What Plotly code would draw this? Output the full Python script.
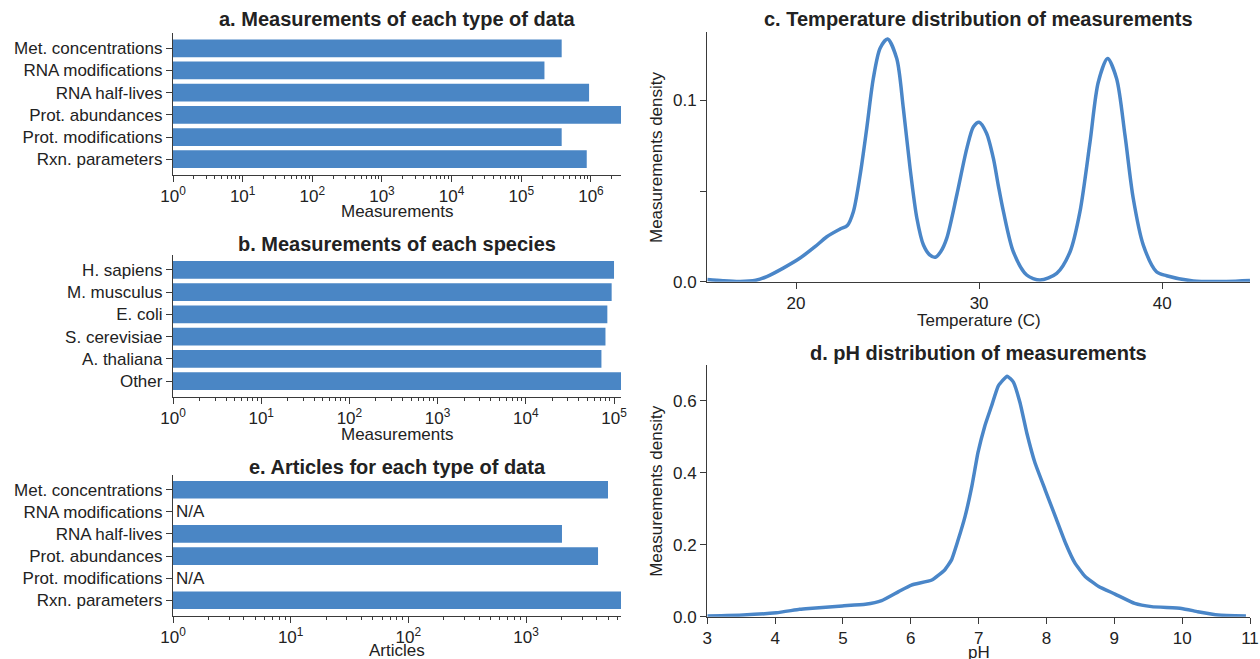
import numpy as np
import plotly.graph_objects as go

W, H = 1260, 659

# ---------------- data ----------------
data_types = ["Met. concentrations", "RNA modifications", "RNA half-lives",
              "Prot. abundances", "Prot. modifications", "Rxn. parameters"]
type_measurements = [3.8e5, 2.15e5, 9.4e5, 2.7e6, 3.8e5, 8.7e5]

species = ["H. sapiens", "M. musculus", "E. coli", "S. cerevisiae", "A. thaliana", "Other"]
species_measurements = [1.0e5, 9.4e4, 8.4e4, 8.0e4, 7.2e4, 1.2e5]

type_articles = [4970, None, 2020, 4090, None, 6410]

temp_x = [15.15, 16.0, 16.94, 17.8, 18.4, 19.3, 20.2, 21.0, 21.68, 22.4, 22.8, 23.13,
          23.5, 23.86, 24.22, 24.59, 25.0, 25.5, 25.86, 26.23, 26.6, 26.96, 27.3, 27.61,
          27.9, 28.23, 28.78, 29.33, 29.69, 30.0, 30.4, 30.78, 31.05, 31.33, 31.87, 32.6,
          33.33, 34.24, 34.97, 35.51, 36.06, 36.51, 37.02, 37.51, 37.97, 38.42, 38.97,
          39.69, 40.24, 41.7, 43.5, 44.8]
temp_density = [0.0012, 0.0005, 0.0001, 0.0008, 0.0028, 0.0075, 0.0129, 0.019, 0.0248,
                0.029, 0.031, 0.0386, 0.0588, 0.0845, 0.112, 0.1287, 0.1338, 0.123,
                0.0956, 0.0625, 0.035, 0.0202, 0.0148, 0.0135, 0.0165, 0.0239, 0.0478,
                0.0735, 0.0854, 0.0879, 0.082, 0.068, 0.053, 0.0386, 0.0165, 0.0037,
                0.0009, 0.0046, 0.0165, 0.0386, 0.077, 0.110, 0.123, 0.112, 0.0807,
                0.046, 0.0202, 0.0055, 0.0033, 0.0004, 0.0001, 0.0006]

ph_x = [3.0, 3.53, 4.02, 4.36, 4.5, 4.99, 5.33, 5.57, 5.82, 6.01, 6.31, 6.5, 6.6, 6.69,
        6.8, 6.9, 6.99, 7.09, 7.19, 7.29, 7.42, 7.51, 7.61, 7.71, 7.83, 7.98, 8.13, 8.28,
        8.42, 8.57, 8.77, 9.01, 9.3, 9.55, 9.99, 10.23, 10.53, 10.94]
ph_density = [0.002, 0.0047, 0.011, 0.0205, 0.023, 0.030, 0.0345, 0.0446, 0.0698, 0.088,
              0.102, 0.130, 0.158, 0.209, 0.279, 0.363, 0.456, 0.530, 0.586, 0.642, 0.669,
              0.653, 0.595, 0.511, 0.428, 0.353, 0.279, 0.205, 0.149, 0.112, 0.084, 0.063,
              0.037, 0.028, 0.023, 0.014, 0.0047, 0.002]

temp_ticks = [20, 30, 40]
temp_yticks = [0, 0.05, 0.1]
temp_yticktext = ["0.0", "", "0.1"]
ph_ticks = [3, 4, 5, 6, 7, 8, 9, 10, 11]
ph_yticks = [0, 0.2, 0.4, 0.6]
ph_yticktext = ["0.0", "0.2", "0.4", "0.6"]

# ---------------- style ----------------
BAR = "#4a86c5"
LINE = "#4a86c8"
AX = "#3a3a3a"
TXT = "#222222"
FONT = "Liberation Sans, Arial, sans-serif"
TICKFONT = dict(family=FONT, size=17, color=TXT)


def fx(px):
    return px / W


def fy(py):
    return 1 - py / H


LEFT_X = [fx(173), fx(621)]
RIGHT_X = [fx(707.3), fx(1250)]


def log_xaxis(vals, y_anchor):
    vmax = max(v for v in vals if v is not None)
    top = np.log10(vmax)
    n = int(np.floor(top))
    major = [10 ** k for k in range(n + 1)]
    minor = [m * 10 ** k for k in range(n + 1) for m in range(2, 10) if m * 10 ** k <= vmax]
    return dict(type="log", domain=LEFT_X, range=[0, top], anchor=y_anchor, automargin=False,
                tickvals=major, ticktext=[f"10<sup>{k}</sup>" for k in range(n + 1)],
                ticks="outside", ticklen=6, tickwidth=1.2, tickcolor=AX,
                showline=True, linecolor=AX, linewidth=1.3, showgrid=False, zeroline=False,
                minor=dict(ticks="outside", ticklen=3.5, tickwidth=1, tickcolor=AX,
                           tickvals=minor, showgrid=False),
                tickfont=TICKFONT)


def cat_yaxis(cats, y0, y1, x_anchor):
    return dict(type="category", domain=[fy(y1), fy(y0)], anchor=x_anchor, automargin=False,
                categoryorder="array", categoryarray=cats,
                range=[len(cats) - 0.31, -0.69],
                ticks="outside", ticklen=6, tickwidth=1.2, tickcolor=AX,
                showline=True, linecolor=AX, linewidth=1.3, showgrid=False, zeroline=False,
                tickfont=TICKFONT)


fig = go.Figure()

fig.add_trace(go.Bar(x=type_measurements, y=data_types, orientation="h",
                     marker=dict(color=BAR, line=dict(width=0)), xaxis="x", yaxis="y"))
fig.add_trace(go.Bar(x=species_measurements, y=species, orientation="h",
                     marker=dict(color=BAR, line=dict(width=0)), xaxis="x2", yaxis="y2"))
fig.add_trace(go.Bar(x=type_articles, y=data_types, orientation="h",
                     marker=dict(color=BAR, line=dict(width=0)), xaxis="x3", yaxis="y3"))
fig.add_trace(go.Scatter(x=temp_x, y=temp_density, mode="lines",
                         line=dict(color=LINE, width=3.5, shape="spline", smoothing=0.8),
                         xaxis="x4", yaxis="y4"))
fig.add_trace(go.Scatter(x=ph_x, y=ph_density, mode="lines",
                         line=dict(color=LINE, width=3.5, shape="spline", smoothing=0.4),
                         xaxis="x5", yaxis="y5"))

lin_common = dict(ticks="outside", ticklen=6, tickwidth=1.2, tickcolor=AX, automargin=False,
                  showline=True, linecolor=AX, linewidth=1.3, showgrid=False,
                  zeroline=False, tickfont=TICKFONT)

fig.update_layout(
    width=W, height=H, margin=dict(l=0, r=0, t=0, b=0, autoexpand=False),
    paper_bgcolor="white", plot_bgcolor="white", showlegend=False,
    bargap=0.2, font=dict(family=FONT, color=TXT), hovermode=False,
    xaxis=log_xaxis(type_measurements, "y"),
    yaxis=cat_yaxis(data_types, 33, 174.5, "x"),
    xaxis2=log_xaxis(species_measurements, "y2"),
    yaxis2=cat_yaxis(species, 254.5, 396.5, "x2"),
    xaxis3=log_xaxis(type_articles, "y3"),
    yaxis3=cat_yaxis(data_types, 474.5, 615.5, "x3"),
    xaxis4=dict(domain=RIGHT_X, anchor="y4", range=[min(temp_x), max(temp_x)],
                tickvals=temp_ticks, **lin_common),
    yaxis4=dict(domain=[fy(281.7), fy(32.3)], anchor="x4", range=[0, 0.1375],
                tickvals=temp_yticks, ticktext=temp_yticktext, **lin_common),
    xaxis5=dict(domain=RIGHT_X, anchor="y5", range=[ph_ticks[0], ph_ticks[-1]],
                tickvals=ph_ticks, **lin_common),
    yaxis5=dict(domain=[fy(616.7), fy(365)], anchor="x5", range=[0, 0.70],
                tickvals=ph_yticks, ticktext=ph_yticktext, **lin_common),
)

ann = []
TITLE_FONT = dict(family=FONT, size=20, color=TXT)
LABEL_FONT = dict(family=FONT, size=17, color=TXT)
lx = fx((173 + 621) / 2)
rx = fx((707.3 + 1250) / 2)
for text, x, y in [("<b>a. Measurements of each type of data</b>", lx, 19),
                   ("<b>b. Measurements of each species</b>", lx, 244),
                   ("<b>e. Articles for each type of data</b>", lx, 467),
                   ("<b>c. Temperature distribution of measurements</b>", rx, 19),
                   ("<b>d. pH distribution of measurements</b>", rx, 353)]:
    ann.append(dict(text=text, x=x, y=fy(y), xref="paper", yref="paper",
                    xanchor="center", yanchor="middle", showarrow=False, font=TITLE_FONT))
for text, x, y in [("Measurements", lx, 212), ("Measurements", lx, 434),
                   ("Articles", lx, 650), ("Temperature (C)", rx, 320), ("pH", rx, 652)]:
    ann.append(dict(text=text, x=x, y=fy(y), xref="paper", yref="paper",
                    xanchor="center", yanchor="middle", showarrow=False, font=LABEL_FONT))
for y in [(32.3 + 281.7) / 2, (365 + 616.7) / 2]:
    ann.append(dict(text="Measurements density", x=fx(657), y=fy(y), xref="paper",
                    yref="paper", xanchor="center", yanchor="middle", textangle=-90,
                    showarrow=False, font=LABEL_FONT))
for cat, v in zip(data_types, type_articles):
    if v is None:
        ann.append(dict(text="N/A", x=0, y=cat, xref="x3", yref="y3", xanchor="left",
                        yanchor="middle", xshift=1, showarrow=False, font=LABEL_FONT))
fig.update_layout(annotations=ann)

# the page's default 8 px body margin would push the 1260x659 figure out of the window
fig.write_html("out.html", config={"displayModeBar": False},
               post_script="document.body.style.margin='0';")
